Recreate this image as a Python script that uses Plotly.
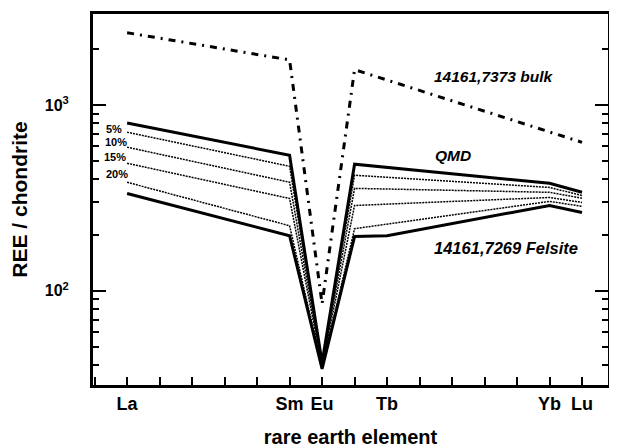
import plotly.graph_objects as go

# Tick labels (atomic numbers of labelled elements)
tick_pos = [57, 62, 63, 65, 70, 71]
tick_labels = ["La", "Sm", "Eu", "Tb", "Yb", "Lu"]

# Series (chondrite-normalised REE)
x_bulk = [57, 62, 63, 64, 71]
bulk = [2450, 1750, 85, 1550, 630]

x_qmd = [57, 62, 63, 64, 70, 71]
qmd = [800, 537, 41, 480, 379, 339]

x_mix = [57, 62, 63, 64, 70, 71]
mix5 = [714, 468, 40, 419, 360, 326]
mix10 = [593, 384, 39.5, 356, 339, 315]
mix15 = [486, 314, 39, 288, 318, 299]
mix20 = [384, 224, 38.5, 216, 303, 285]
mix_names = ["5%", "10%", "15%", "20%"]

x_fel = [57, 62, 63, 64, 65, 70, 71]
felsite = [334, 198, 38, 196, 198, 288, 264]

FONT = "Liberation Sans, Arial, sans-serif"

fig = go.Figure()

fig.add_trace(go.Scatter(x=x_bulk, y=bulk, mode="lines", name="14161,7373 bulk",
                         line=dict(color="black", width=3, dash="7px,6px,2px,6px")))
fig.add_trace(go.Scatter(x=x_qmd, y=qmd, mode="lines", name="QMD",
                         line=dict(color="black", width=3)))
for nm, ys in zip(mix_names, [mix5, mix10, mix15, mix20]):
    fig.add_trace(go.Scatter(x=x_mix, y=ys, mode="lines", name=nm,
                             line=dict(color="black", width=1.5, dash="2px,1px")))
fig.add_trace(go.Scatter(x=x_fel, y=felsite, mode="lines", name="14161,7269 Felsite",
                         line=dict(color="black", width=3)))

ann = []
ann.append(dict(x=68.27, y=3.151, text="<b><i>14161,7373 bulk</i></b>", showarrow=False,
                font=dict(family=FONT, size=15.5, color="black")))
ann.append(dict(x=67.03, y=2.730, text="<b><i>QMD</i></b>", showarrow=False,
                font=dict(family=FONT, size=15.5, color="black")))
ann.append(dict(x=68.67, y=2.232, text="<b><i>14161,7269 Felsite</i></b>", showarrow=False,
                font=dict(family=FONT, size=16.5, color="black")))
for nm, (ax, ay) in zip(mix_names, [(56.6, 2.870), (56.66, 2.800), (56.63, 2.719), (56.69, 2.627)]):
    ann.append(dict(x=ax, y=ay, text="<b>%s</b>" % nm, showarrow=False,
                    font=dict(family=FONT, size=11, color="black")))

fig.update_layout(
    width=609, height=440,
    margin=dict(l=85, r=9, t=6, b=63, autoexpand=False),
    paper_bgcolor="white", plot_bgcolor="white",
    showlegend=False,
    annotations=ann,
    font=dict(family=FONT, color="black"),
)

fig.update_xaxes(
    range=[55.95, 71.8],
    tickvals=tick_pos, ticktext=["<b>%s</b>" % t for t in tick_labels],
    tickfont=dict(family=FONT, size=18, color="black"),
    ticks="inside", ticklen=8, tickwidth=2, tickcolor="black",
    minor=dict(dtick=1, tick0=57, ticks="inside", ticklen=8, tickwidth=2, tickcolor="black"),
    showline=True, linewidth=3, linecolor="black", mirror=True,
    showgrid=False, zeroline=False, automargin=False,
    title=dict(text="<b>rare earth element</b>", font=dict(family=FONT, size=20, color="black"), standoff=18),
)

fig.update_yaxes(
    type="log", range=[1.493, 3.49],
    tickvals=[100, 1000], ticktext=["<b>10<sup>2</sup></b>", "<b>10<sup>3</sup></b>"],
    tickfont=dict(family=FONT, size=16, color="black"),
    ticks="inside", ticklen=13, tickwidth=2, tickcolor="black",
    ticklabelstandoff=18,
    minor=dict(tickvals=[40, 50, 60, 70, 80, 90, 200, 300, 400, 500, 600, 700, 800, 900, 2000],
               ticks="inside", ticklen=6, tickwidth=2, tickcolor="black"),
    showline=True, linewidth=3, linecolor="black", mirror="ticks",
    showgrid=False, zeroline=False, automargin=False,
    title=dict(text="<b>REE / chondrite</b>", font=dict(family=FONT, size=21, color="black"), standoff=12),
)

fig.write_html("out.html")
